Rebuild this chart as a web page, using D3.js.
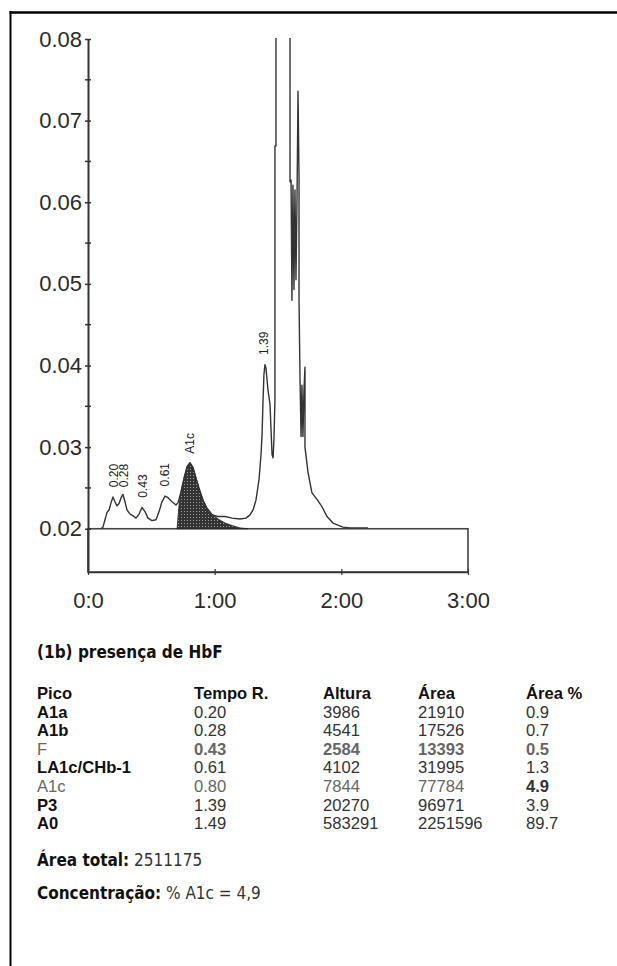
<!DOCTYPE html>
<html>
<head>
<meta charset="utf-8">
<script src="https://cdn.jsdelivr.net/npm/d3@7"></script>
<style>
  body { margin: 0; background: #fff; }
  svg { display: block; }
  .axis text { font-family: "Liberation Sans", Arial, sans-serif; font-size: 22px; fill: #2a2a2a; }
  .axis path, .axis line { stroke: #333; }
  .tbl { font-family: "Liberation Sans", Arial, sans-serif; font-size: 16.6px; }
  .cond { font-family: "Liberation Sans Narrow", "DejaVu Sans Condensed", "Liberation Sans", sans-serif; font-size: 17px; }
</style>
</head>
<body>
<script>
// chromatogram trace (time in minutes, absorbance)
const traceTime = [0.103,0.118,0.134,0.150,0.166,0.182,0.197,0.213,0.229,0.245,0.261,0.276,0.292,0.308,0.332,0.355,0.379,0.403,0.426,0.450,0.474,0.505,0.537,0.561,0.584,0.608,0.632,0.663,0.695,0.711,0.734,0.758,0.782,0.805,0.829,0.853,0.876,0.908,0.939,0.979,1.026,1.082,1.137,1.200,1.247,1.279,1.303,1.326,1.350,1.366,1.374,1.382,1.389,1.397,1.405,1.421,1.437,1.445,1.453,1.461,1.468,1.476,1.476,1.484,1.484,1.484,1.587,1.595,1.595,1.603,1.610,1.618,1.626,1.634,1.642,1.650,1.658,1.666,1.666,1.674,1.682,1.689,1.697,1.705,1.713,1.713,1.737,1.768,1.808,1.847,1.887,1.934,2.013,2.068,2.210];
const traceAbs = [0.0200,0.0202,0.0211,0.0220,0.0223,0.0232,0.0239,0.0233,0.0228,0.0231,0.0238,0.0242,0.0233,0.0223,0.0218,0.0216,0.0213,0.0218,0.0226,0.0221,0.0213,0.0210,0.0211,0.0221,0.0233,0.0240,0.0238,0.0233,0.0229,0.0232,0.0245,0.0262,0.0276,0.0281,0.0275,0.0262,0.0250,0.0235,0.0224,0.0217,0.0215,0.0215,0.0213,0.0212,0.0213,0.0217,0.0223,0.0235,0.0260,0.0291,0.0315,0.0358,0.0389,0.0401,0.0397,0.0370,0.0352,0.0321,0.0291,0.0287,0.0309,0.0358,0.0669,0.0669,0.0800,0.0830,0.0830,0.0800,0.0625,0.0627,0.0480,0.0621,0.0493,0.0615,0.0505,0.0603,0.0736,0.0630,0.0480,0.0382,0.0313,0.0376,0.0313,0.0370,0.0398,0.0300,0.0269,0.0244,0.0236,0.0227,0.0215,0.0207,0.0202,0.0201,0.0201];

// integrated A1c peak (shaded)
const a1cTime = [0.703,0.718,0.734,0.758,0.782,0.805,0.829,0.853,0.876,0.908,0.939,0.979,1.026,1.082,1.137,1.200,1.263];
const a1cAbs = [0.0200,0.0228,0.0245,0.0262,0.0276,0.0281,0.0275,0.0262,0.0250,0.0235,0.0226,0.0218,0.0212,0.0207,0.0204,0.0201,0.0200];

// peak labels
const peakLabels = ["0.20", "0.28", "0.43", "0.61", "A1c", "1.39"];
const peakTimes = [0.20, 0.28, 0.43, 0.61, 0.80, 1.39];
const peakTops = [0.0246, 0.0246, 0.0233, 0.0247, 0.0287, 0.0408];

// axes
const yMajor = [0.02, 0.03, 0.04, 0.05, 0.06, 0.07, 0.08];
const yMinor = [0.025, 0.035, 0.045, 0.055, 0.065, 0.075];
const xTicks = [0, 1, 2, 3];
const xTickLabels = ["0:0", "1:00", "2:00", "3:00"];

// results table
const tableHeader = ["Pico", "Tempo R.", "Altura", "Área", "Área %"];
const peakNames = ["A1a", "A1b", "F", "LA1c/CHb-1", "A1c", "P3", "A0"];
const tempoR = ["0.20", "0.28", "0.43", "0.61", "0.80", "1.39", "1.49"];
const altura = ["3986", "4541", "2584", "4102", "7844", "20270", "583291"];
const area = ["21910", "17526", "13393", "31995", "77784", "96971", "2251596"];
const areaPct = ["0.9", "0.7", "0.5", "1.3", "4.9", "3.9", "89.7"];
const areaTotal = "2511175";
const concA1c = "4,9";

const W = 617, H = 966;
const svg = d3.select("body").append("svg").attr("width", W).attr("height", H);

// outer frame (left and top only)
svg.append("line").attr("x1", 10.5).attr("x2", 10.5).attr("y1", 11).attr("y2", H)
   .attr("stroke", "#000").attr("stroke-width", 2);
svg.append("line").attr("x1", 9.5).attr("x2", W).attr("y1", 12.5).attr("y2", 12.5)
   .attr("stroke", "#000").attr("stroke-width", 2.5);

const x = d3.scaleLinear().domain([0, 3]).range([88, 468]);
const y = d3.scaleLinear().domain([0.0147, 0.08]).range([572, 39]);

// baseline box
svg.append("rect")
   .attr("x", x(0)).attr("y", y(0.02))
   .attr("width", x(3) - x(0)).attr("height", y(0.0147) - y(0.02))
   .attr("fill", "#fff").attr("stroke", "#444").attr("stroke-width", 1.6);

// hatch for the A1c area
const defs = svg.append("defs");
const pat = defs.append("pattern").attr("id", "hatch")
   .attr("width", 3).attr("height", 3).attr("patternUnits", "userSpaceOnUse");
pat.append("rect").attr("width", 3).attr("height", 3).attr("fill", "#333");
pat.append("rect").attr("x", 1).attr("y", 1).attr("width", 1).attr("height", 1).attr("fill", "#a0a0a0");

defs.append("clipPath").attr("id", "plotclip")
   .append("rect").attr("x", x(0)).attr("y", y(0.08) - 1)
   .attr("width", x(3) - x(0)).attr("height", y(0.02) - y(0.08) + 2);

const a1c = a1cTime.map((t, i) => [t, a1cAbs[i]]);
svg.append("path")
   .datum(a1c)
   .attr("d", d3.area().x(d => x(d[0])).y0(y(0.02)).y1(d => y(d[1])))
   .attr("fill", "url(#hatch)")
   .attr("stroke", "#222").attr("stroke-width", 0.8);

const trace = traceTime.map((t, i) => [t, traceAbs[i]]);
svg.append("path")
   .datum(trace)
   .attr("clip-path", "url(#plotclip)")
   .attr("d", d3.line().x(d => x(d[0])).y(d => y(d[1])))
   .attr("fill", "none")
   .attr("stroke", "#333")
   .attr("stroke-width", 1.4)
   .attr("stroke-linejoin", "round");

// peak labels, rotated
svg.selectAll(".plabel")
   .data(peakLabels)
   .enter().append("text")
   .attr("class", "plabel")
   .attr("transform", (d, i) => `translate(${x(peakTimes[i])},${y(peakTops[i]) - 4}) rotate(-90)`)
   .attr("dy", "0.35em")
   .attr("font-family", "Liberation Sans, Arial, sans-serif")
   .attr("font-size", 12)
   .attr("fill", "#222")
   .text(d => d);

// y axis
const yAxis = svg.append("g")
   .attr("class", "axis")
   .attr("transform", `translate(${x(0)},0)`)
   .call(d3.axisLeft(y).tickValues(yMajor).tickFormat(d3.format(".2f")).tickSizeInner(3).tickSizeOuter(0).tickPadding(3));
yAxis.select(".domain").attr("stroke-width", 2);
yAxis.selectAll(".tick line").attr("x1", 3).attr("stroke-width", 1.5);
yAxis.selectAll(".minor")
   .data(yMinor)
   .enter().append("line")
   .attr("class", "minor")
   .attr("x1", -3).attr("x2", 3)
   .attr("y1", d => y(d)).attr("y2", d => y(d))
   .attr("stroke", "#333").attr("stroke-width", 1.5);

// x axis
const xAxis = svg.append("g")
   .attr("class", "axis")
   .attr("transform", `translate(0,${y(0.0147)})`)
   .call(d3.axisBottom(x).tickValues(xTicks).tickFormat((d, i) => xTickLabels[i]).tickSizeInner(3).tickSizeOuter(0).tickPadding(17));
xAxis.select(".domain").attr("stroke-width", 1.6).attr("stroke", "#444");
xAxis.selectAll(".tick line").attr("y1", -3).attr("stroke-width", 1.2);

// caption
svg.append("text")
   .attr("class", "cond")
   .attr("x", 37).attr("y", 658)
   .attr("font-weight", "bold")
   .attr("fill", "#111")
   .text("(1b) presença de HbF");

// table
const colX = [37, 194, 323, 418, 526];
const rowY0 = 699, rowH = 18.6;

svg.append("g").selectAll("text")
   .data(tableHeader)
   .enter().append("text")
   .attr("class", "tbl")
   .attr("x", (d, i) => colX[i]).attr("y", rowY0)
   .attr("font-weight", "bold").attr("fill", "#111")
   .text(d => d);

const rows = peakNames.map((n, i) => [n, tempoR[i], altura[i], area[i], areaPct[i]]);
const rowG = svg.append("g").selectAll("g")
   .data(rows)
   .enter().append("g")
   .attr("transform", (d, i) => `translate(0,${rowY0 + (i + 1) * rowH})`);

rowG.selectAll("text")
   .data(d => d.map(v => ({v: v, name: d[0]})))
   .enter().append("text")
   .attr("class", "tbl")
   .attr("x", (d, i) => colX[i])
   .attr("font-weight", (d, i) => {
       if (d.name === "F") return i === 0 ? "normal" : "bold";
       if (d.name === "A1c") return i === 4 ? "bold" : "normal";
       return i === 0 ? "bold" : "normal";
   })
   .attr("fill", (d, i) => {
       if (d.name === "F") return "#666";
       if (d.name === "A1c") return i === 4 ? "#333" : "#666";
       return i === 0 ? "#111" : "#333";
   })
   .text(d => d.v);

// totals
const t1 = svg.append("text").attr("class", "cond").attr("x", 37).attr("y", 866).attr("fill", "#111");
t1.append("tspan").attr("font-weight", "bold").text("Área total:");
t1.append("tspan").attr("fill", "#333").text(" " + areaTotal);

const t2 = svg.append("text").attr("class", "cond").attr("x", 37).attr("y", 899).attr("fill", "#111");
t2.append("tspan").attr("font-weight", "bold").text("Concentração:");
t2.append("tspan").attr("fill", "#333").text(" % A1c = " + concA1c);
</script>
</body>
</html>
